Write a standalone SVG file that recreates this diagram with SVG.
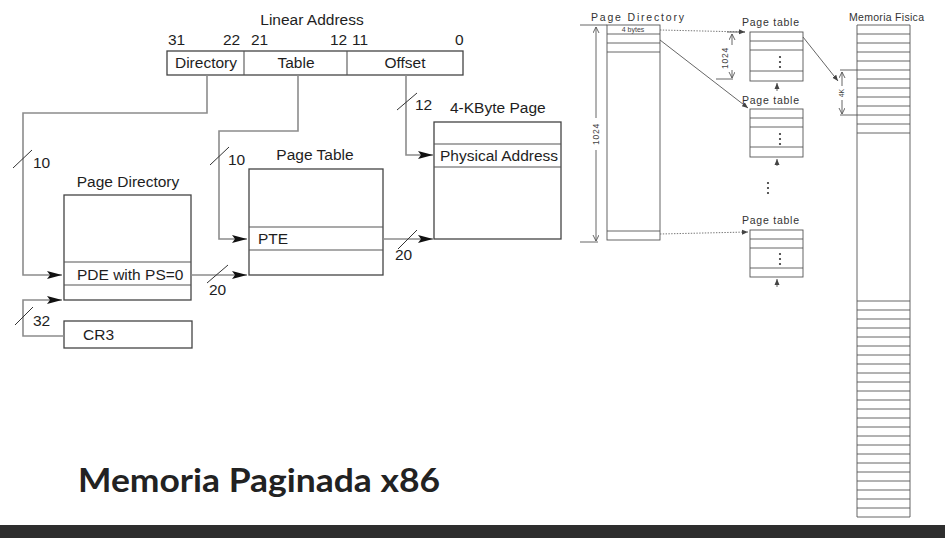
<svg xmlns="http://www.w3.org/2000/svg" width="945" height="538" viewBox="0 0 945 538">
  <style>
    .lbl { font-family: "Liberation Sans", Arial, sans-serif; font-size: 15.5px; fill: #1e1e1e; }
    .box { fill: #fff; stroke: #444; stroke-width: 1.3; }
    .div { stroke: #555; stroke-width: 1.1; }
    .wire { fill: none; stroke: #8c8c8c; stroke-width: 1.6; }
    .tick { stroke: #333; stroke-width: 1; }
    .hand { font-family: "Liberation Sans", Arial, sans-serif; font-size: 10.5px; fill: #333; }
    .tiny { font-family: "Liberation Sans", Arial, sans-serif; font-size: 7px; fill: #444; }
    .dim { font-family: "Liberation Sans", Arial, sans-serif; font-size: 8.5px; fill: #444; letter-spacing: 0.8px; }
    .pen { fill: none; stroke: #555; stroke-width: 0.9; }
    .dot { fill: none; stroke: #666; stroke-width: 0.9; stroke-dasharray: 1.4 1.4; }
    .title { font-family: "Lato", "Open Sans", sans-serif; font-weight: 700; font-size: 32px; fill: #222; }
  </style>
  <defs>
    <marker id="arr" markerWidth="16" markerHeight="10" refX="15" refY="5" orient="auto" markerUnits="userSpaceOnUse">
      <path d="M0,1 L15,5 L0,9 L3,5 z" fill="#111"/>
    </marker>
    <marker id="parr" markerWidth="8" markerHeight="8" refX="6" refY="3" orient="auto" markerUnits="userSpaceOnUse">
      <path d="M0,0.5 L6,3 L0,5.5 z" fill="#444"/>
    </marker>
    <marker id="chev" markerWidth="8" markerHeight="8" refX="6" refY="3" orient="auto" markerUnits="userSpaceOnUse">
      <path d="M0,0 L6,3 L0,6" fill="none" stroke="#555" stroke-width="0.9"/>
    </marker>
  </defs>

  <rect width="945" height="538" fill="#fff"/>

  <!-- ===== x86 two-level translation (left) ===== -->
  <g id="linear-address">
    <text class="lbl" x="312" y="25" text-anchor="middle">Linear Address</text>
    <text class="lbl" x="168" y="45">31</text>
    <text class="lbl" x="223" y="45">22</text>
    <text class="lbl" x="251" y="45">21</text>
    <text class="lbl" x="330" y="45">12</text>
    <text class="lbl" x="352" y="45">11</text>
    <text class="lbl" x="455" y="45">0</text>
    <rect class="box" x="167" y="51" width="296" height="24"/>
    <line class="div" x1="244" y1="51" x2="244" y2="75"/>
    <line class="div" x1="347" y1="51" x2="347" y2="75"/>
    <text class="lbl" x="206" y="68" text-anchor="middle">Directory</text>
    <text class="lbl" x="296" y="68" text-anchor="middle">Table</text>
    <text class="lbl" x="405" y="68" text-anchor="middle">Offset</text>
  </g>

  <g id="page-directory">
    <text class="lbl" x="128" y="187" text-anchor="middle">Page Directory</text>
    <rect class="box" x="64" y="195" width="127" height="105"/>
    <line class="div" x1="64" y1="262" x2="191" y2="262"/>
    <line class="div" x1="64" y1="285" x2="191" y2="285"/>
    <text class="lbl" x="77" y="280">PDE with PS=0</text>
  </g>

  <g id="cr3">
    <rect class="box" x="64" y="321" width="128" height="27"/>
    <text class="lbl" x="83" y="340">CR3</text>
  </g>

  <g id="page-table">
    <text class="lbl" x="315" y="160" text-anchor="middle">Page Table</text>
    <rect class="box" x="249" y="169" width="134" height="106"/>
    <line class="div" x1="249" y1="227" x2="383" y2="227" stroke="#999"/>
    <line class="div" x1="249" y1="250" x2="383" y2="250"/>
    <text class="lbl" x="258" y="244">PTE</text>
  </g>

  <g id="page-4k">
    <text class="lbl" x="450" y="113">4-KByte Page</text>
    <rect class="box" x="434" y="122" width="127" height="117"/>
    <line class="div" x1="434" y1="144" x2="561" y2="144"/>
    <line class="div" x1="434" y1="167" x2="561" y2="167"/>
    <text class="lbl" x="440" y="161">Physical Address</text>
  </g>

  <g id="connectors">
    <!-- directory index -->
    <path class="wire" d="M207,75 V113 H23 V275 H62" marker-end="url(#arr)"/>
    <line class="tick" x1="13" y1="168" x2="32" y2="150"/>
    <text class="lbl" x="33" y="168">10</text>
    <!-- table index -->
    <path class="wire" d="M298,75 V131 H219 V239 H247" marker-end="url(#arr)"/>
    <line class="tick" x1="210" y1="165" x2="229" y2="147"/>
    <text class="lbl" x="228" y="165">10</text>
    <!-- page offset -->
    <path class="wire" d="M406,75 V155 H433" marker-end="url(#arr)"/>
    <line class="tick" x1="397" y1="110" x2="417" y2="93"/>
    <text class="lbl" x="415" y="110">12</text>
    <!-- PDE to page table -->
    <path class="wire" d="M191,275 H247" marker-end="url(#arr)"/>
    <line class="tick" x1="207" y1="283" x2="228" y2="265"/>
    <text class="lbl" x="209" y="295">20</text>
    <!-- PTE to page frame -->
    <path class="wire" d="M383,239 H433" marker-end="url(#arr)"/>
    <line class="tick" x1="398" y1="249" x2="417" y2="230"/>
    <text class="lbl" x="395" y="260">20</text>
    <!-- CR3 to directory base -->
    <path class="wire" d="M64,336 H23 V300 H62" marker-end="url(#arr)"/>
    <line class="tick" x1="15" y1="325" x2="33" y2="307"/>
    <text class="lbl" x="33" y="326">32</text>
  </g>

  <!-- ===== sketch of the tables in memory (right) ===== -->
  <g id="sk-directory">
    <text class="hand" x="591" y="21" textLength="93" lengthAdjust="spacing">Page Directory</text>
    <rect class="pen" x="607" y="25" width="53" height="215"/>
    <line class="pen" x1="607" y1="34" x2="660" y2="34"/>
    <line class="pen" x1="607" y1="43" x2="660" y2="43"/>
    <line class="pen" x1="607" y1="52" x2="660" y2="52"/>
    <line class="pen" x1="607" y1="231" x2="660" y2="231"/>
    <text class="tiny" x="633" y="32" text-anchor="middle">4 bytes</text>
    <!-- size of the directory -->
    <line class="pen" x1="580" y1="25" x2="607" y2="25"/>
    <line class="pen" x1="580" y1="242" x2="598" y2="242"/>
    <line class="pen" x1="596" y1="118" x2="596" y2="27" marker-end="url(#chev)"/>
    <line class="pen" x1="596" y1="150" x2="596" y2="241" marker-end="url(#chev)"/>
    <text class="dim" x="596" y="137" text-anchor="middle" transform="rotate(-90 596 134)">1024</text>
  </g>

  <g id="sk-table-1">
    <text class="hand" x="742" y="26" textLength="57" lengthAdjust="spacing">Page table</text>
    <rect class="pen" x="750" y="32" width="53" height="49"/>
    <line class="pen" x1="750" y1="41" x2="803" y2="41"/>
    <line class="pen" x1="750" y1="50" x2="803" y2="50"/>
    <line class="pen" x1="750" y1="71" x2="803" y2="71"/>
    <circle cx="780" cy="57" r="1.1" fill="#333"/>
    <circle cx="780" cy="62" r="1.1" fill="#333"/>
    <circle cx="780" cy="67" r="1.1" fill="#333"/>
    <line class="pen" x1="777" y1="91" x2="777" y2="83" marker-end="url(#parr)"/>
    <!-- size of one table -->
    <line class="pen" x1="727" y1="32" x2="745" y2="32"/>
    <line class="pen" x1="716" y1="79" x2="733" y2="79"/>
    <line class="pen" x1="732" y1="45" x2="732" y2="34" marker-end="url(#chev)"/>
    <line class="pen" x1="732" y1="70" x2="732" y2="78" marker-end="url(#chev)"/>
    <text class="dim" x="725" y="61" text-anchor="middle" transform="rotate(-90 725 58)">1024</text>
  </g>

  <g id="sk-table-2">
    <text class="hand" x="742" y="104" textLength="57" lengthAdjust="spacing">Page table</text>
    <rect class="pen" x="750" y="109" width="53" height="48"/>
    <line class="pen" x1="750" y1="118" x2="803" y2="118"/>
    <line class="pen" x1="750" y1="127" x2="803" y2="127"/>
    <line class="pen" x1="750" y1="147" x2="803" y2="147"/>
    <circle cx="780" cy="134" r="1.1" fill="#333"/>
    <circle cx="780" cy="139" r="1.1" fill="#333"/>
    <circle cx="780" cy="144" r="1.1" fill="#333"/>
    <line class="pen" x1="777" y1="166" x2="777" y2="159" marker-end="url(#parr)"/>
  </g>

  <g id="sk-more">
    <circle cx="768" cy="183" r="1.1" fill="#333"/>
    <circle cx="768" cy="188" r="1.1" fill="#333"/>
    <circle cx="768" cy="193" r="1.1" fill="#333"/>
  </g>

  <g id="sk-table-3">
    <text class="hand" x="742" y="224" textLength="57" lengthAdjust="spacing">Page table</text>
    <rect class="pen" x="750" y="230" width="53" height="47"/>
    <line class="pen" x1="750" y1="239" x2="803" y2="239"/>
    <line class="pen" x1="750" y1="248" x2="803" y2="248"/>
    <line class="pen" x1="750" y1="268" x2="803" y2="268"/>
    <circle cx="780" cy="254" r="1.1" fill="#333"/>
    <circle cx="780" cy="259" r="1.1" fill="#333"/>
    <circle cx="780" cy="264" r="1.1" fill="#333"/>
    <line class="pen" x1="777" y1="287" x2="777" y2="279" marker-end="url(#parr)"/>
  </g>

  <g id="sk-memory">
    <text class="hand" x="849" y="21" textLength="75" lengthAdjust="spacing">Memoria Fisica</text>
    <line class="pen" x1="857" y1="25" x2="857" y2="517"/>
    <line class="pen" x1="910" y1="25" x2="910" y2="517"/>
    <path class="pen" d="M857,25H910 M857,34H910 M857,43H910 M857,52H910 M857,61H910 M840,70H910 M857,79H910 M857,88H910 M857,97H910 M857,106H910 M840,115H910 M857,124H910 M857,133H910"/>
    <path class="pen" d="M857,301H910 M857,310H910 M857,319H910 M857,328H910 M857,337H910 M857,346H910 M857,355H910 M857,364H910 M857,373H910 M857,382H910 M857,391H910 M857,400H910 M857,409H910 M857,418H910 M857,427H910 M857,436H910 M857,445H910 M857,454H910 M857,463H910 M857,472H910 M857,481H910 M857,490H910 M857,499H910 M857,508H910 M857,517H910"/>
    <!-- size of one page frame -->
    <line class="pen" x1="842" y1="86" x2="842" y2="72" marker-end="url(#chev)"/>
    <line class="pen" x1="842" y1="100" x2="842" y2="114" marker-end="url(#chev)"/>
    <text class="tiny" x="842" y="95" text-anchor="middle" transform="rotate(-90 842 93)">4K</text>
  </g>

  <g id="sk-links">
    <line class="dot" x1="660" y1="30" x2="745" y2="32" marker-end="url(#parr)"/>
    <line class="pen" x1="660" y1="40" x2="748" y2="108" marker-end="url(#parr)"/>
    <line class="dot" x1="660" y1="234" x2="748" y2="232" marker-end="url(#parr)"/>
    <line class="pen" x1="803" y1="37" x2="838" y2="81" marker-end="url(#parr)"/>
  </g>

  <!-- ===== caption ===== -->
  <text class="title" x="78" y="492" textLength="362" lengthAdjust="spacingAndGlyphs">Memoria Paginada x86</text>
  <rect x="0" y="525" width="945" height="13" fill="#2e2e2e"/>
</svg>
